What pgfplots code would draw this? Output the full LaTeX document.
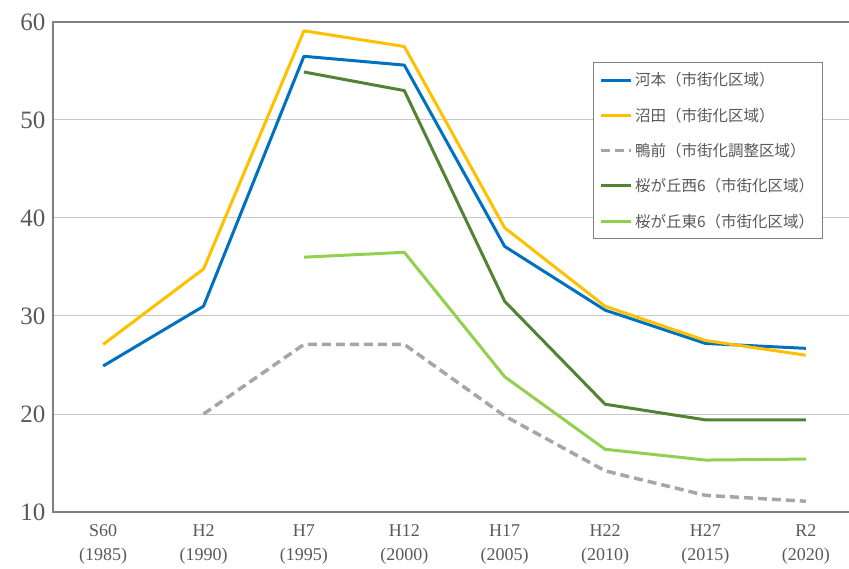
\documentclass[border=0pt]{standalone}
\usepackage{pgfplots}
\pgfplotsset{compat=1.18}
\usepackage{fontspec}
\setmainfont{Liberation Serif}
\newfontfamily\jp{Noto Sans CJK JP}

\definecolor{kawamoto}{HTML}{0070C0}
\definecolor{numata}{HTML}{FFC000}
\definecolor{kamomae}{HTML}{A6A6A6}
\definecolor{nishi}{HTML}{548235}
\definecolor{higashi}{HTML}{92D050}
\definecolor{labgray}{HTML}{595959}
\definecolor{gridgray}{HTML}{C8C8C8}
\definecolor{axgray}{HTML}{808080}

\begin{document}
\begin{tikzpicture}
\begin{axis}[
  scale only axis,
  width=803pt, height=490pt,
  xmin=-0.5, xmax=7.5,
  ymin=10, ymax=60,
  xtick={0,...,7},
  xticklabels={{S60\\(1985)},{H2\\(1990)},{H7\\(1995)},{H12\\(2000)},
                {H17\\(2005)},{H22\\(2010)},{H27\\(2015)},{R2\\(2020)}},
  xticklabel style={align=center, font=\fontsize{18}{24}\selectfont, text=labgray, yshift=-9pt},
  ytick={10,20,...,60},
  yticklabel style={font=\fontsize{25}{25}\selectfont, text=labgray, xshift=-4pt},
  /pgf/number format/assume math mode=true,
  ymajorgrids,
  grid style={gridgray, line width=1pt},
  axis line style={axgray, line width=1.3pt},
  tick style={draw=none},
  legend cell align=left,
  legend image code/.code={\draw[#1] (0pt,0pt) -- (30pt,0pt);},
  legend style={at={(0.6725,0.918)}, anchor=north west,
    draw=axgray, line width=1pt, fill=white,
    font=\jp\fontsize{15.5}{18}\selectfont, text=labgray,
    row sep=16.5pt, inner xsep=6pt, inner ysep=8pt},
  every axis plot/.append style={line width=3pt, line join=round},
]
\addplot[kawamoto] coordinates {
  (0,24.9) (1,31.0) (2,56.5) (3,55.6) (4,37.1) (5,30.6) (6,27.2) (7,26.7)};
\addlegendentry{河本（市街化区域）}
\addplot[numata] coordinates {
  (0,27.1) (1,34.8) (2,59.1) (3,57.5) (4,39.0) (5,31.0) (6,27.5) (7,26.0)};
\addlegendentry{沼田（市街化区域）}
\addplot[kamomae, dash pattern=on 9pt off 5pt, line width=3.5pt] coordinates {
  (1,20.0) (2,27.1) (3,27.1) (4,19.8) (5,14.2) (6,11.7) (7,11.1)};
\addlegendentry{鴨前（市街化調整区域）}
\addplot[nishi] coordinates {
  (2,54.9) (3,53.0) (4,31.5) (5,21.0) (6,19.4) (7,19.4)};
\addlegendentry{桜が丘西6（市街化区域）}
\addplot[higashi] coordinates {
  (2,36.0) (3,36.5) (4,23.8) (5,16.4) (6,15.3) (7,15.4)};
\addlegendentry{桜が丘東6（市街化区域）}
\coordinate (sw) at (rel axis cs:0,0);
\end{axis}
\pgfresetboundingbox
\path ([xshift=-53pt,yshift=-56pt]sw) rectangle ([xshift=796pt,yshift=512pt]sw);
\end{tikzpicture}
\end{document}
